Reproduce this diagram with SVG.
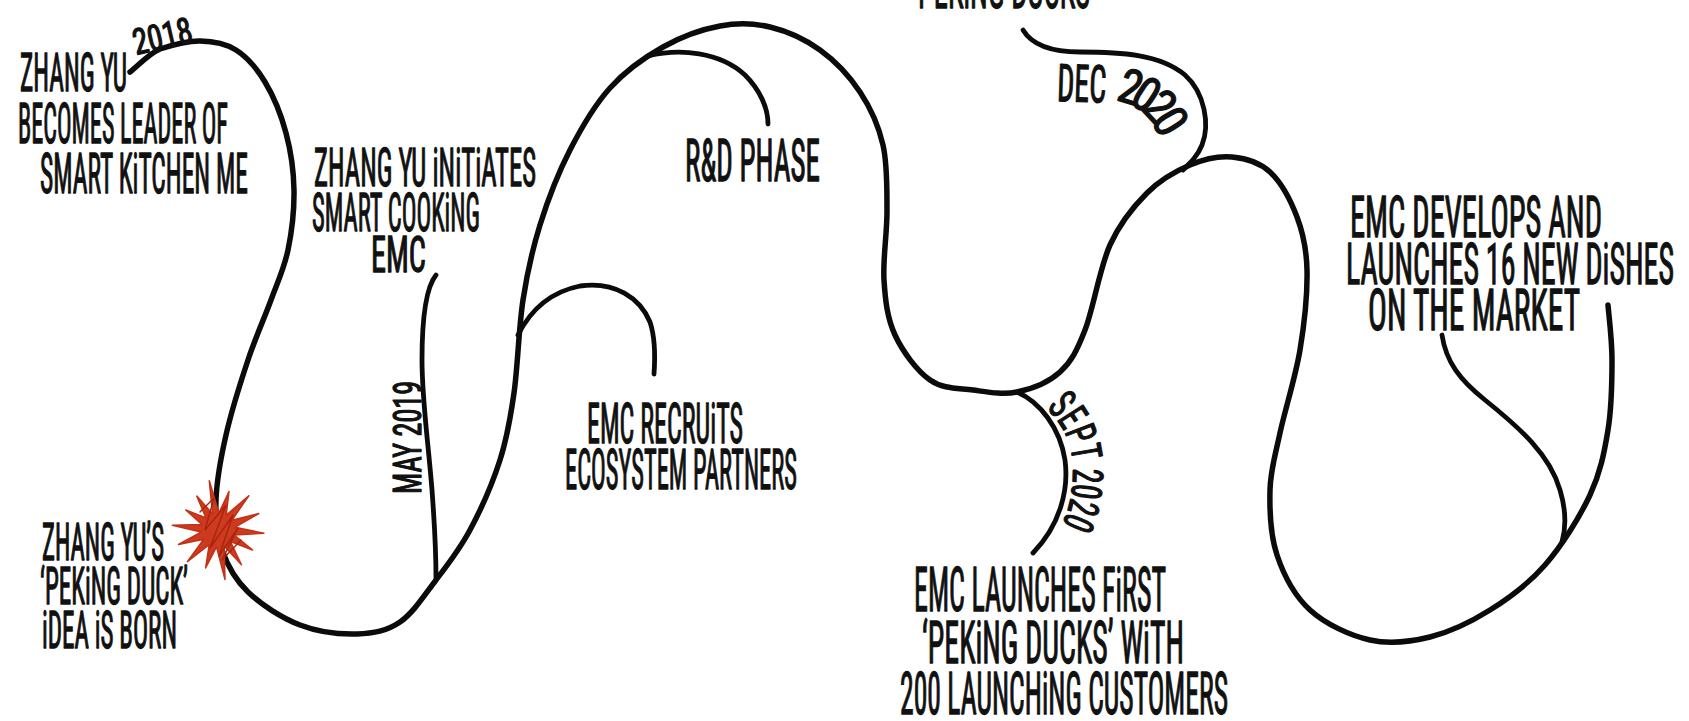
<svg xmlns="http://www.w3.org/2000/svg" width="1689" height="721" viewBox="0 0 1689 721">
<style>
.bg{fill:#ffffff}
.ln{fill:none;stroke:#0b0b0b;stroke-width:5.5;stroke-linecap:round;stroke-linejoin:round}
.br{fill:none;stroke:#0b0b0b;stroke-width:4.8;stroke-linecap:round;stroke-linejoin:round}
.t{font-family:"Roboto Condensed","Liberation Sans Narrow","DejaVu Sans Condensed","Liberation Sans",sans-serif;fill:#111;stroke:#111;stroke-width:1.3;stroke-linejoin:round}
.star{fill:#cd3a1f;stroke:#c23216;stroke-width:1.5;stroke-linejoin:round}
.scr{fill:none;stroke:#a8240e;stroke-width:1.4;stroke-linecap:round;stroke-linejoin:round}
</style>
<rect class="bg" x="0" y="0" width="1689" height="721"/>
<g id="connectors">
<path id="timeline" class="ln" d="M130,72 C138,66 148.3,54 160,49 C171.7,45.2 187.3,40.8 200,41 C212.7,41.2 225.2,43.2 236,50 C246.8,56.8 256.7,68.2 265,82 C273.3,95.8 281.2,115 286,133 C290.8,151 293.7,170.5 294,190 C294.3,209.5 291.8,231.7 288,250 C284.2,268.3 277.7,281.7 271,300 C264.3,318.3 255.5,337.5 248,360 C240.5,382.5 231.3,411.7 226,435 C220.7,458.3 216.7,480.8 216,500 C215.3,519.2 216.7,534.7 222,550 C227.3,565.3 235,579.5 248,592 C261,604.5 281.8,618 300,625 C318.2,632 340.3,634.5 357,634 C373.7,633.5 386.8,631 400,622 C413.2,613 424.3,595.3 436,580 C447.7,564.7 459.3,550 470,530 C480.7,510 492.7,482.8 500,460 C507.3,437.2 510.2,419.7 514,393 C517.8,366.3 518.7,328 523,300 C527.3,272 532.2,250 540,225 C547.8,200 558.3,172.8 570,150 C581.7,127.2 594.5,105.2 610,88 C625.5,70.8 644.7,57.3 663,47 C681.3,36.7 702.2,29.3 720,26 C737.8,22.7 753.3,23 770,27 C786.7,31 805,39.2 820,50 C835,60.8 849.5,76.2 860,92 C870.5,107.8 878.5,125.3 883,145 C887.5,164.7 886.8,187.5 887,210 C887.2,232.5 882.7,259.2 884,280 C885.3,300.8 887.3,318.3 895,335 C902.7,351.7 917,370.8 930,380 C943,389.2 958.5,388 973,390 C987.5,392 1002.5,395 1017,392 C1031.5,389 1048.7,382.3 1060,372 C1071.3,361.7 1076.7,351.2 1085,330 C1093.3,308.8 1099.7,267.8 1110,245 C1120.3,222.2 1133.7,206.3 1147,193 C1160.3,179.7 1175.8,171 1190,165 C1204.2,159 1218.7,155.8 1232,157 C1245.3,158.2 1259.2,162 1270,172 C1280.8,182 1290.8,200.7 1297,217 C1303.2,233.3 1306.5,247.8 1307,270 C1307.5,292.2 1304.5,322.8 1300,350 C1295.5,377.2 1285,409.7 1280,433 C1275,456.3 1270.5,469.7 1270,490 C1269.5,510.3 1270.3,535 1277,555 C1283.7,575 1294.5,595.8 1310,610 C1325.5,624.2 1350,635.5 1370,640 C1390,644.5 1410,642 1430,637 C1450,632 1470.8,622 1490,610 C1509.2,598 1528.3,584.2 1545,565 C1561.7,545.8 1579.5,517.5 1590,495 C1600.5,472.5 1604.3,452.5 1608,430 C1611.7,407.5 1612,380.8 1612,360 C1612,339.2 1608.7,314.2 1608,305"/>
<path id="b-may" class="br" d="M436,275 C428,285 422,310 422,360 C422,400 428,440 432,490 C435,530 436,560 436,578"/>
<path id="b-recruit" class="br" d="M518,335 C528,315 545,293 580,286 C615,281 640,298 650,322 C656,340 655,360 654,374"/>
<path id="b-rd" class="br" d="M648,56 C680,48 720,52 745,75 C760,90 768,108 768,124"/>
<path id="b-dec" class="br" d="M1023,30 C1032,45 1050,52 1080,52 C1120,52 1160,54 1185,75 C1205,93 1210,125 1202,145 C1197,157 1190,163 1183,170"/>
<path id="b-sept" class="br" d="M1017,392 C1040,402 1060,428 1065,460 C1069,490 1060,525 1033,553"/>
<path id="b-dishes" class="br" d="M1442,335 C1446,362 1460,380 1485,400 C1520,428 1550,455 1560,490 C1566,510 1566,528 1562,542"/>
</g>
<defs>
<path id="p-dec" d="M1058,63 L1118,65 C1143,67 1163,79 1178,97 L1192,120"/>
<path id="p-sept" d="M1046,408 C1064,425 1073,445 1073,470 C1073,495 1068,515 1058,532"/>
</defs>
<g id="node-2018">
<text class="t" transform="translate(136,55) rotate(-13)" font-size="36" textLength="60" lengthAdjust="spacingAndGlyphs">2018</text>
</g>
<g id="node-leader">
<text class="t" x="20" y="91" font-size="54" textLength="107" lengthAdjust="spacingAndGlyphs">ZHANG YU</text>
<text class="t" x="18" y="143" font-size="56" textLength="210" lengthAdjust="spacingAndGlyphs">BECOMES LEADER OF</text>
<text class="t" x="40" y="193" font-size="56" textLength="208" lengthAdjust="spacingAndGlyphs">SMART KiTCHEN ME</text>
</g>
<g id="node-initiates">
<text class="t" x="314" y="186" font-size="54" textLength="222" lengthAdjust="spacingAndGlyphs">ZHANG YU  iNiTiATES</text>
<text class="t" x="312" y="231" font-size="54" textLength="168" lengthAdjust="spacingAndGlyphs">SMART COOKiNG</text>
<text class="t" x="371" y="272" font-size="50" textLength="55" lengthAdjust="spacingAndGlyphs">EMC</text>
</g>
<g id="node-may2019">
<text class="t" transform="translate(421,494) rotate(-90)" font-size="38" textLength="113" lengthAdjust="spacingAndGlyphs">MAY 2019</text>
</g>
<g id="node-idea">
<polygon class="star" points="209.3,480.8 218.9,513 229,491.5 226.2,515.1 248.8,495.8 231.9,520.2 258.8,513.5 234.8,527.3 263.9,533.2 234.3,535 252.6,550 230.4,541.6 241.5,564.8 224.1,545.9 225,579.5 216.5,546.9 205.6,568 209.2,544.6 187.4,561.6 203.7,539.3 178.5,544.4 201.1,532.1 172.3,525.2 201.9,524.5 185.8,509.9 206,518 196.8,496.1 212.5,513.9"/>
<polyline class="scr" points="200,512 214,498 205,530 226,505 210,548 233,515 219,556 238,528 222,560 241,540"/>
<text class="t" x="42" y="560" font-size="52" textLength="122" lengthAdjust="spacingAndGlyphs">ZHANG YU’S</text>
<text class="t" x="40" y="604" font-size="52" textLength="148" lengthAdjust="spacingAndGlyphs">‘PEKiNG DUCK’</text>
<text class="t" x="42" y="648" font-size="52" textLength="135" lengthAdjust="spacingAndGlyphs">iDEA iS BORN</text>
</g>
<g id="node-rd">
<text class="t" x="685" y="181" font-size="59" textLength="135" lengthAdjust="spacingAndGlyphs">R&amp;D PHASE</text>
</g>
<g id="node-recruits">
<text class="t" x="587" y="443" font-size="56" textLength="156" lengthAdjust="spacingAndGlyphs">EMC RECRUiTS</text>
<text class="t" x="565" y="489" font-size="55" textLength="232" lengthAdjust="spacingAndGlyphs">ECOSYSTEM  PARTNERS</text>
</g>
<g id="node-dec2020">
<text class="t" x="918" y="8" font-size="58" textLength="172" lengthAdjust="spacingAndGlyphs">PEKiNG DUCKS</text>
<text class="t" font-size="52" dominant-baseline="hanging"><textPath href="#p-dec" startOffset="0" textLength="49" lengthAdjust="spacingAndGlyphs">DEC</textPath></text>
<text class="t" font-size="48" dominant-baseline="hanging"><textPath href="#p-dec" startOffset="68" textLength="90" lengthAdjust="spacingAndGlyphs">2020</textPath></text>
</g>
<g id="node-sept2020">
<text class="t" font-size="42"><textPath href="#p-sept" textLength="126" lengthAdjust="spacingAndGlyphs">SEPT 2020</textPath></text>
<text class="t" x="914" y="611" font-size="62" textLength="252" lengthAdjust="spacingAndGlyphs">EMC LAUNCHES FiRST</text>
<text class="t" x="922" y="663" font-size="60" textLength="262" lengthAdjust="spacingAndGlyphs">‘PEKiNG DUCKS’  WiTH</text>
<text class="t" x="900" y="714" font-size="60" textLength="328" lengthAdjust="spacingAndGlyphs">200 LAUNCHiNG CUSTOMERS</text>
</g>
<g id="node-dishes">
<text class="t" x="1350" y="237" font-size="58" textLength="252" lengthAdjust="spacingAndGlyphs">EMC DEVELOPS AND</text>
<text class="t" x="1346" y="284" font-size="58" textLength="328" lengthAdjust="spacingAndGlyphs">LAUNCHES  16 NEW DiSHES</text>
<text class="t" x="1368" y="330" font-size="58" textLength="212" lengthAdjust="spacingAndGlyphs">ON THE  MARKET</text>
</g>
</svg>
